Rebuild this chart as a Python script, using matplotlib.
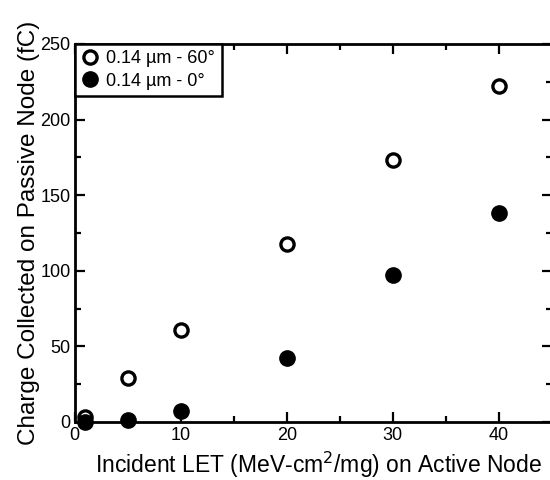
import matplotlib
matplotlib.use("Agg")
import matplotlib.pyplot as plt
from matplotlib.ticker import MultipleLocator

plt.rcParams['font.family'] = ['Liberation Sans', 'DejaVu Sans']

let = [1, 5, 10, 20, 30, 40]
q_60deg = [3.5, 29, 61, 118, 173, 222]
q_0deg = [0, 1, 7, 42, 97, 138]
labels = ["0.14 \u00b5m - 60\u00b0", "0.14 \u00b5m - 0\u00b0"]

fig = plt.figure(figsize=(5.5, 4.8), dpi=100)
ax = fig.add_axes([0.136, 0.121, 0.867, 0.7875])

ax.plot(let, q_60deg, 'o', ms=9.5, mfc='white', mec='black', mew=2.4, label=labels[0], clip_on=False)
ax.plot(let, q_0deg, 'o', ms=11, color='black', label=labels[1], clip_on=False)

ax.set_xlim(0, 45)
ax.set_ylim(0, 250)
ax.xaxis.set_major_locator(MultipleLocator(10))
ax.xaxis.set_minor_locator(MultipleLocator(5))
ax.yaxis.set_major_locator(MultipleLocator(50))
ax.yaxis.set_minor_locator(MultipleLocator(25))
ax.tick_params(which='both', direction='in', top=True, right=True, width=1.6, labelsize=13)
ax.tick_params(axis='x', pad=4)
ax.tick_params(axis='y', pad=3)
ax.tick_params(which='major', length=7)
ax.tick_params(which='minor', length=4)
for s in ax.spines.values():
    s.set_linewidth(2)

ax.set_xlabel("Incident LET (MeV-cm$^2$/mg) on Active Node", fontsize=16.5, labelpad=2)
ax.xaxis.set_label_coords(0.51, -0.075)
ax.set_ylabel("Charge Collected on Passive Node (fC)", fontsize=17.5, labelpad=0)

leg = ax.legend(loc='upper left', borderaxespad=0, fancybox=False, edgecolor='black',
                fontsize=13, handletextpad=0.4, borderpad=0.35, labelspacing=0.3,
                handlelength=1.0, framealpha=1)
leg.get_frame().set_linewidth(1.8)

fig.savefig("out.png", dpi=100)
